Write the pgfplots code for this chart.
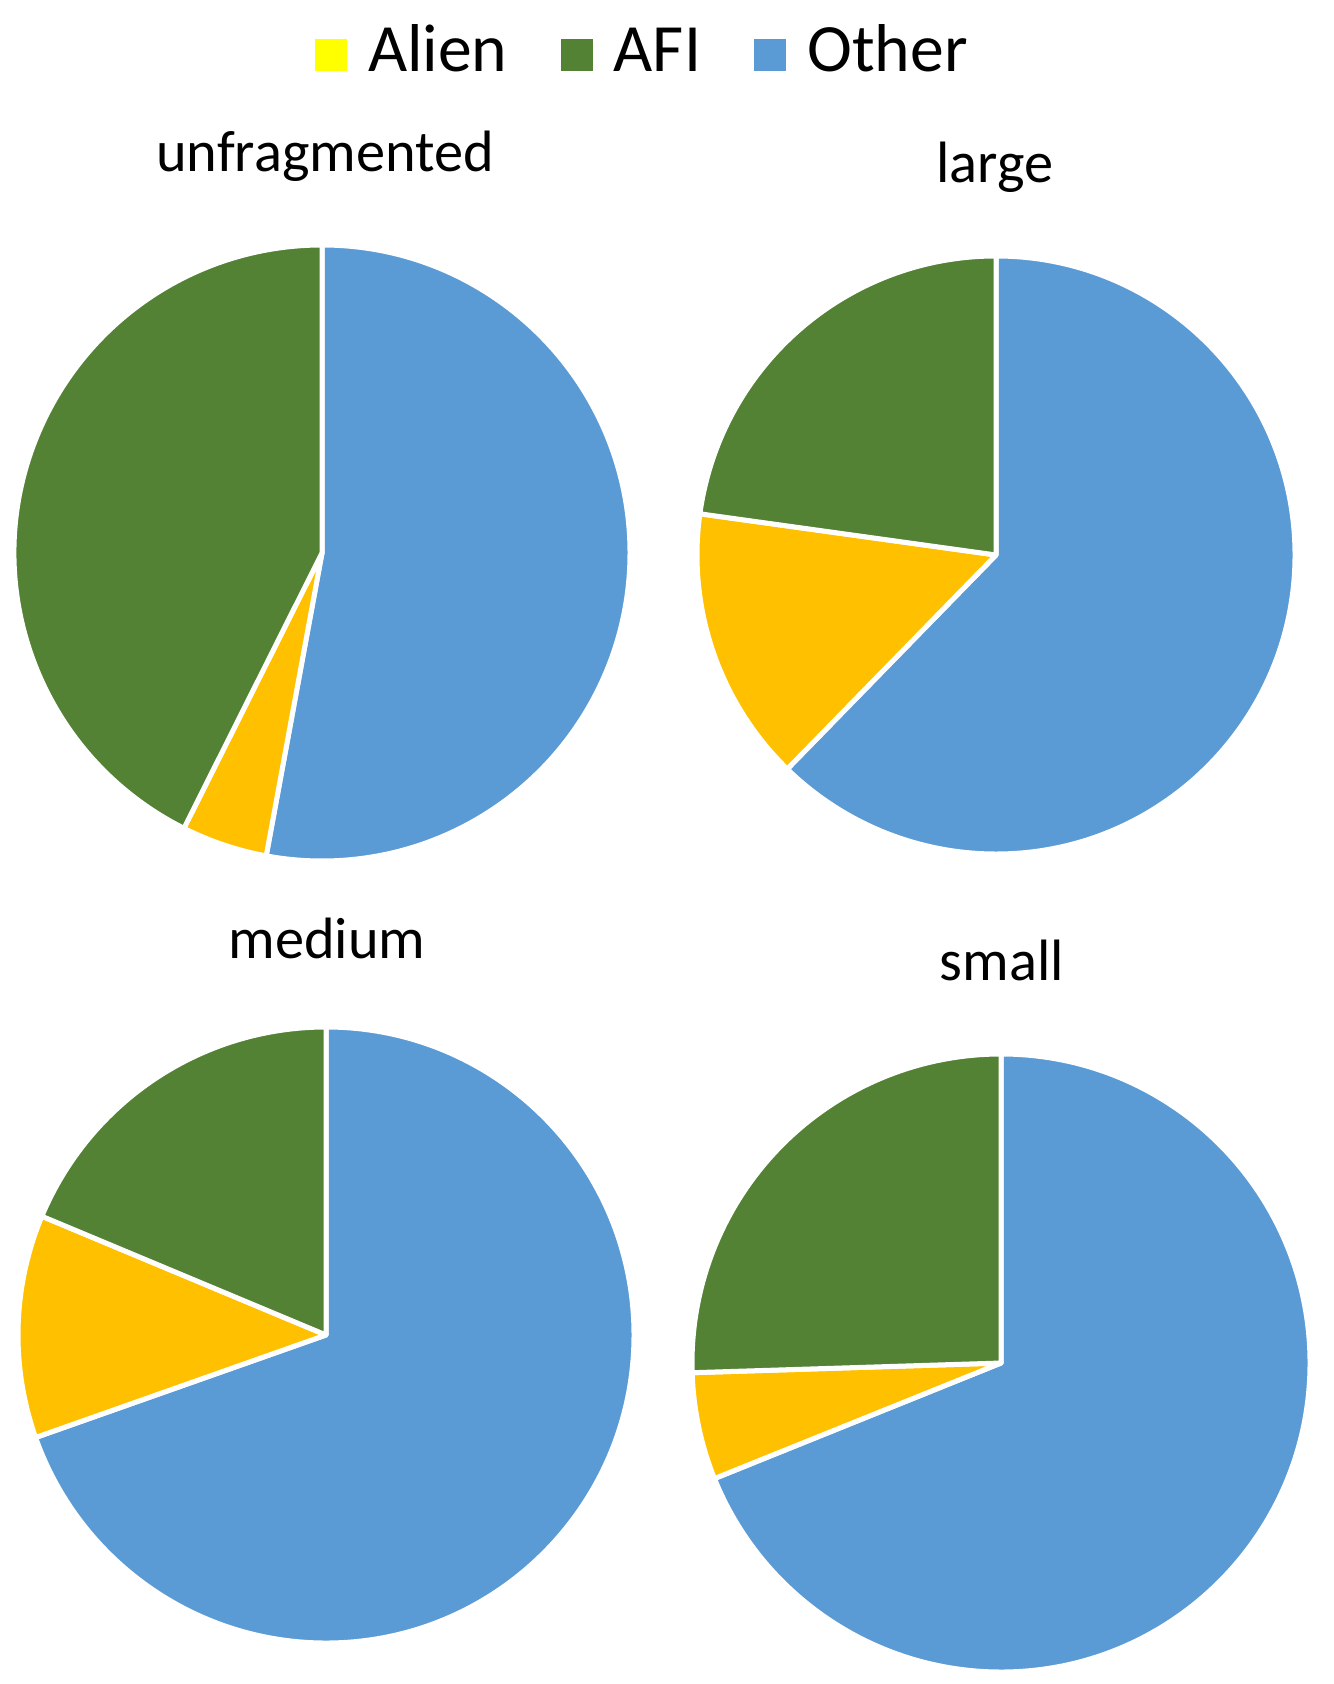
\documentclass[border=0pt]{standalone}
\usepackage{fontspec}
\setmainfont{Carlito}
\usepackage{pgfplots}
\usepackage{pgfplotstable}
\pgfplotsset{compat=1.18}
\definecolor{otherc}{HTML}{5B9BD5}
\definecolor{afic}{HTML}{548235}
\definecolor{alienc}{HTML}{FFC000}
\definecolor{alienleg}{HTML}{FFFF00}

% pie geometry (pixel units of the chart) and shares in percent
\pgfplotstableread{
name cx cy rad other alien afi
unfragmented 322 553 308 52.9 4.5 42.6
large 996 555 299 62.3 14.9 22.8
medium 326 1335 308 69.6 11.7 18.7
small 1001 1363 309 68.9 5.6 25.5
}\piedata

\def\allslices{}
\pgfplotsforeachungrouped \i in {0,...,3}{%
  \pgfplotstablegetelem{\i}{cx}\of\piedata \let\pcx\pgfplotsretval
  \pgfplotstablegetelem{\i}{cy}\of\piedata \let\pcy\pgfplotsretval
  \pgfplotstablegetelem{\i}{rad}\of\piedata \let\prad\pgfplotsretval
  \pgfplotstablegetelem{\i}{other}\of\piedata \let\pother\pgfplotsretval
  \pgfplotstablegetelem{\i}{alien}\of\piedata \let\palien\pgfplotsretval
  \pgfmathsetmacro\pR{\prad*0.3}%
  \pgfmathsetmacro\aO{90-3.6*\pother}%
  \pgfmathsetmacro\aA{90-3.6*(\pother+\palien)}%
  \xdef\allslices{\unexpanded\expandafter{\allslices}
    \noexpand\filldraw[fill=otherc] (axis cs:\pcx,\pcy) -- ++(90:\pR pt) arc[start angle=90,end angle=\aO,radius=\pR pt] -- cycle;
    \noexpand\filldraw[fill=alienc] (axis cs:\pcx,\pcy) -- ++(\aO:\pR pt) arc[start angle=\aO,end angle=\aA,radius=\pR pt] -- cycle;
    \noexpand\filldraw[fill=afic] (axis cs:\pcx,\pcy) -- ++(\aA:\pR pt) arc[start angle=\aA,end angle=-270,radius=\pR pt] -- cycle;
  }%
}

\begin{document}
\begin{tikzpicture}
\path[use as bounding box] (0,0) rectangle (399.9pt,505.2pt);
\begin{axis}[
  at={(0,0)}, anchor=south west,
  scale only axis,
  width=399.9pt, height=505.2pt,
  xmin=0, xmax=1333, ymin=0, ymax=1684,
  y dir=reverse,
  hide axis, clip=false,
  legend image code/.code={\fill[#1, draw=none] (0pt,0.3pt) rectangle (9.6pt,9.9pt);},
  legend style={
    at={(axis cs:315,72)}, anchor=south west,
    draw=none, fill=none, inner sep=0pt, outer sep=0pt,
    legend columns=3,
    font=\fontsize{20.3pt}{24pt}\selectfont,
    cells={anchor=base west},
    nodes={inner sep=0pt, text depth=0pt},
    /tikz/every odd column/.append style={column sep=6.3pt},
    /tikz/every even column/.append style={column sep=16pt},
  },
]
\addlegendimage{fill=alienleg, draw=none}
\addlegendentry{Alien}
\addlegendimage{fill=afic, draw=none}
\addlegendentry{AFI}
\addlegendimage{fill=otherc, draw=none}
\addlegendentry{Other}

\begin{scope}[draw=white, line width=1.5pt, line join=round]
\allslices
\end{scope}

\node[anchor=base, font=\fontsize{17.5pt}{21pt}\selectfont] at (axis cs:325,172) {unfragmented};
\node[anchor=base, font=\fontsize{17.5pt}{21pt}\selectfont] at (axis cs:995,183) {large};
\node[anchor=base, font=\fontsize{17.5pt}{21pt}\selectfont] at (axis cs:327,958) {medium};
\node[anchor=base, font=\fontsize{17.5pt}{21pt}\selectfont] at (axis cs:1002,980) {small};
\end{axis}
\end{tikzpicture}
\end{document}
